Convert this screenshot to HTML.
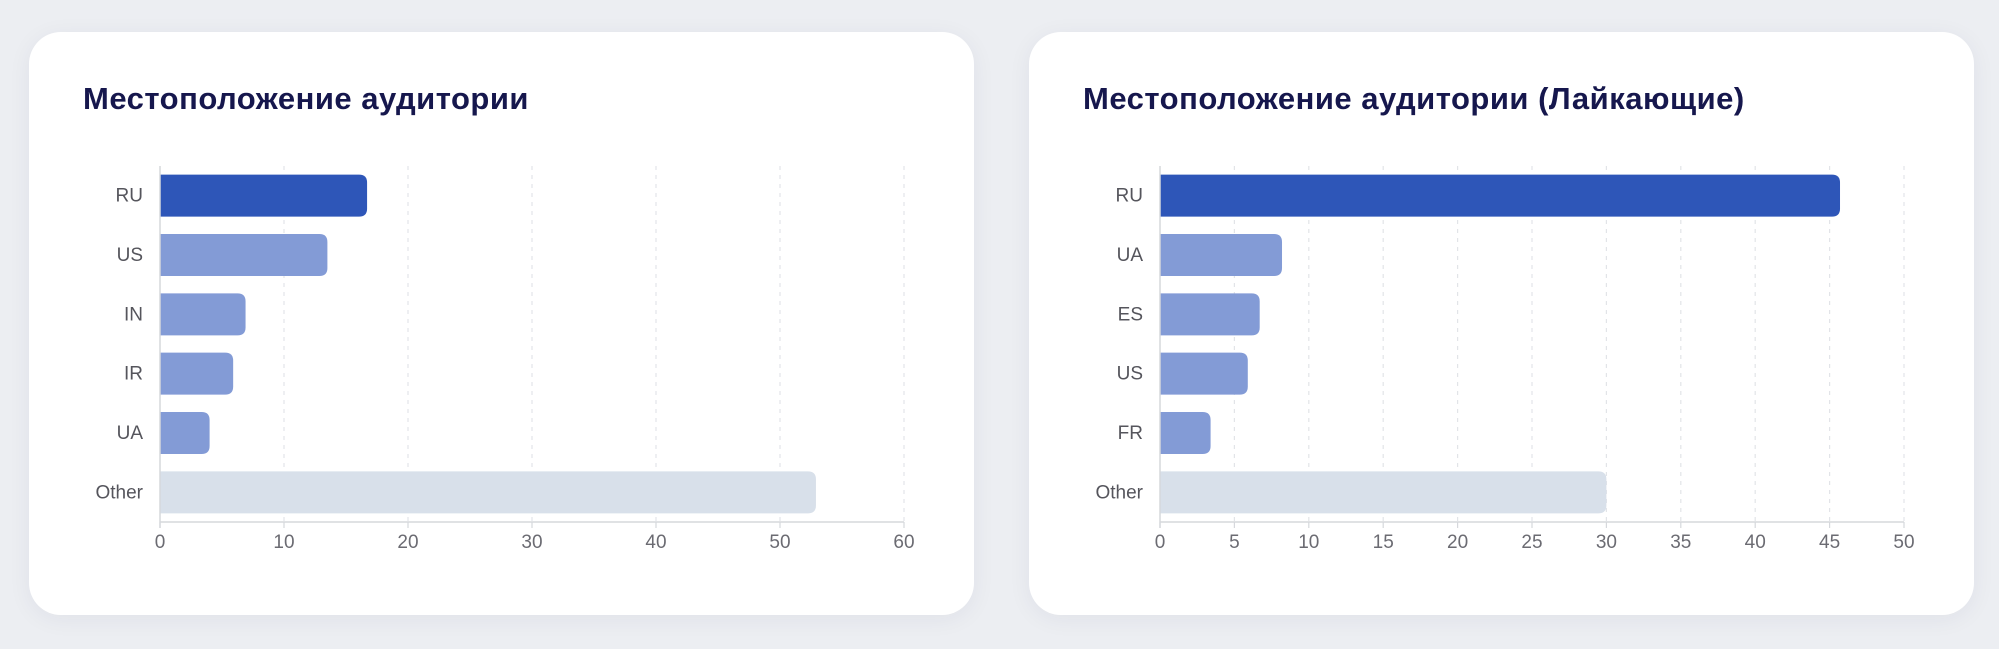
<!DOCTYPE html>
<html><head><meta charset="utf-8">
<style>
html,body{margin:0;padding:0;}
body{width:1999px;height:649px;background:#eceef2;font-family:"Liberation Sans",sans-serif;position:relative;overflow:hidden;}
.card{position:absolute;top:32px;width:945px;height:583px;background:#fff;border-radius:32px;box-shadow:0 4px 24px rgba(30,40,80,0.06);}
.title{position:absolute;left:54px;top:49px;font-size:31px;font-weight:bold;color:#16174d;letter-spacing:0.5px;margin:0;}
svg{position:absolute;left:0;top:0;}
</style></head><body>
<div class="card" style="left:29px">
<h2 class="title">Местоположение аудитории</h2>
<svg id="c1" width="945" height="583"></svg>
</div>
<div class="card" style="left:1029px">
<h2 class="title">Местоположение аудитории (Лайкающие)</h2>
<svg id="c2" width="945" height="583"></svg>
</div>
<script>
const cats1=["RU","US","IN","IR","UA","Other"];
const vals1=[16.7,13.5,6.9,5.9,4.0,52.9];
const ticks1=[0,10,20,30,40,50,60];
const cats2=["RU","UA","ES","US","FR","Other"];
const vals2=[45.7,8.2,6.7,5.9,3.4,30.0];
const ticks2=[0,5,10,15,20,25,30,35,40,45,50];
const NS="http://www.w3.org/2000/svg";
function mk(tag,attrs,parent){const e=document.createElementNS(NS,tag);for(const k in attrs)e.setAttribute(k,attrs[k]);parent.appendChild(e);return e;}
function draw(svg,cats,vals,ticks){
  const x0=131,x1=875,top=134,bottom=490;
  const max=ticks[ticks.length-1];
  const xs=v=>x0+(v/max)*(x1-x0);
  const band=(bottom-top)/cats.length;
  const ys=i=>top+band*i+(band-42)/2;
  ticks.forEach((t,i)=>{
    if(i>0){const g=mk("line",{x1:xs(t),x2:xs(t),y1:top,y2:bottom,stroke:"#e2e4e8","stroke-width":1.2,"stroke-dasharray":"4 5"},svg);
    
    }
    const tk=mk("line",{x1:xs(t),x2:xs(t),y1:bottom,y2:bottom+6,stroke:"#d6d8dc","stroke-width":1.2},svg);
    
    
    const tl=mk("text",{x:xs(t),y:bottom+26,"text-anchor":"middle","font-size":19,fill:"#6b6b72","font-family":"Liberation Sans, sans-serif"},svg);
    tl.textContent=t;
    
    
  });
  cats.forEach((c,i)=>{
    const col=i===0?"#2e56b8":(c==="Other"?"#d8e0ea":"#839bd6");
    const w=xs(vals[i])-x0;
    const b=mk("path",{d:`M${x0},${ys(i)} h${w-8} q8,0 8,8 v26 q0,8 -8,8 h${-(w-8)} z`,fill:col},svg);
    
    
    const l=mk("text",{x:x0-17,y:ys(i)+27,"text-anchor":"end","font-size":19,fill:"#55555c","font-family":"Liberation Sans, sans-serif"},svg);
    l.textContent=c;
    
    
  });
  const ya=mk("line",{x1:x0,x2:x0,y1:top,y2:bottom+6,stroke:"#d6d8dc","stroke-width":1.5},svg);
  
  
  const xa=mk("line",{x1:x0,x2:x1,y1:bottom,y2:bottom,stroke:"#d6d8dc","stroke-width":1.5},svg);
  
  
}
draw(document.getElementById("c1"),cats1,vals1,ticks1);
draw(document.getElementById("c2"),cats2,vals2,ticks2);
</script>
</body></html>
